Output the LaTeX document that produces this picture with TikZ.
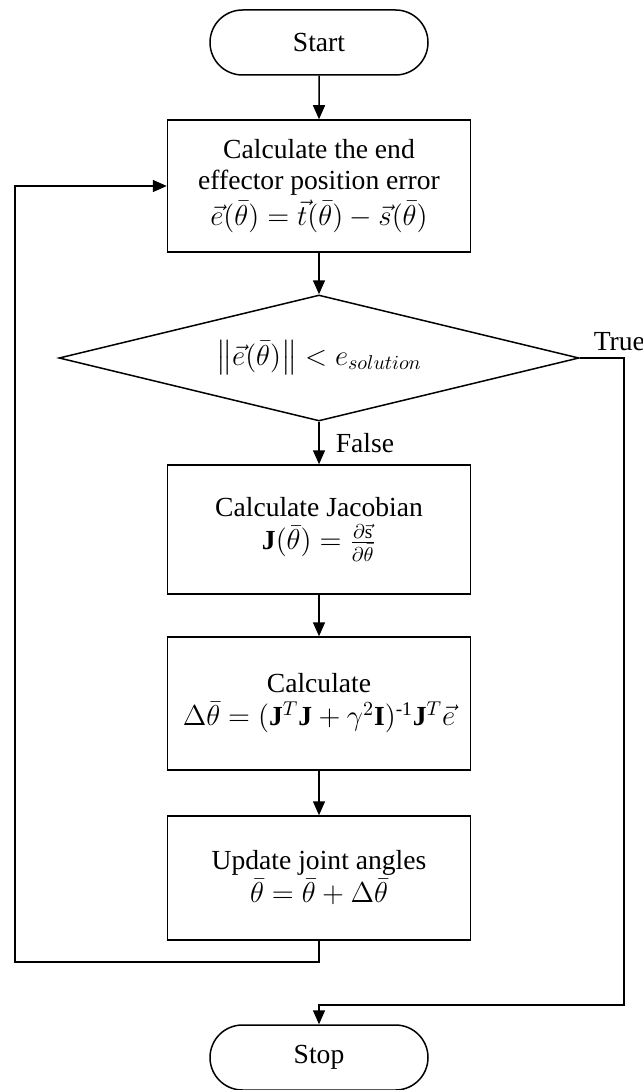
\documentclass[tikz,border=0pt]{standalone}
\usepackage{amsmath}
\usepackage{fontspec}
\setmainfont{Liberation Serif}
\usetikzlibrary{shapes.geometric,shapes.misc,arrows.meta}
\begin{document}
\begin{tikzpicture}[x=0.5pt,y=-0.5pt,
  line width=0.75pt,
  every node/.style={font=\fontsize{13.8}{15.5}\selectfont},
  box/.style={draw, rectangle, minimum width=151.5pt, align=center, inner sep=0pt},
  term/.style={draw, rounded rectangle, minimum width=109pt, minimum height=32.5pt, inner sep=0pt},
  dec/.style={draw, diamond, minimum width=260pt, minimum height=63pt, inner sep=0pt, aspect=4},
  arr/.style={-{Triangle[width=6pt,length=7pt]}},
  lab/.style={inner sep=0pt}]
\useasboundingbox (0,0) rectangle (642,1090);

\node[term] (start) at (319,42.5) {Start};
\node[box, minimum height=66pt] (calc1) at (319,186)
  {Calculate the end\\effector position error\\[1pt]$\vec{e}(\bar{\theta}) = \vec{t}(\bar{\theta}) - \vec{s}(\bar{\theta})$};
\node[dec] (dec) at (319,358) {$\left\|\vec{e}(\bar{\theta})\right\| < e_{solution}$};
\node[box, minimum height=64.5pt] (jac) at (319,529.5)
  {Calculate Jacobian\\[1pt]$\mathbf{J}(\bar{\theta}) = \frac{\partial\vec{\mathrm{s}}}{\partial\bar{\theta}}$};
\node[box, minimum height=66.5pt] (delta) at (319,703.5)
  {Calculate\\[1pt]$\Delta\bar{\theta} = (\mathbf{J}^T\mathbf{J} + \gamma^2\mathbf{I})^{\textnormal{-1}}\mathbf{J}^T\vec{e}$};
\node[box, minimum height=62pt] (upd) at (319,878)
  {Update joint angles\\[1pt]$\bar{\theta} = \bar{\theta} + \Delta\bar{\theta}$};
\node[term] (stop) at (319,1057.5) {Stop};

\coordinate (loopA) at (319,962);
\coordinate (loopB) at (15,962);
\coordinate (trueA) at (624,358);
\coordinate (trueB) at (624,1005);

\draw[arr] (start) -- (calc1);
\draw[arr] (calc1) -- (dec);
\draw[arr] (dec.south) -- (jac.north) node[lab, midway, anchor=west, xshift=8pt] {False};
\draw[arr] (jac) -- (delta);
\draw[arr] (delta) -- (upd);
\draw[arr] (upd.south) -- (loopA) -- (loopB) |- (calc1.west);
\draw[arr] (dec.east) -- (trueA) -- (trueB) -| (stop.north);
\node[lab, anchor=south west] (truelab) at (593,352) {True};
\end{tikzpicture}
\end{document}
